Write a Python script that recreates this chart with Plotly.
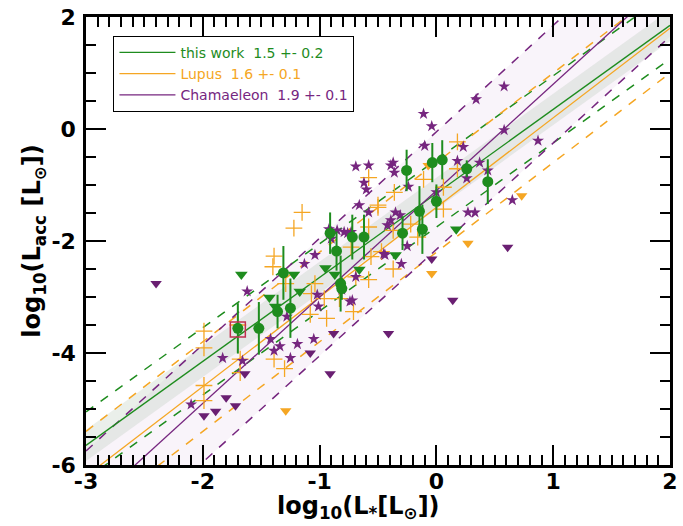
import numpy as np
import plotly.graph_objects as go

# ---------------- data ----------------
# this work: detections (log L*, log Lacc, error)
tw_x = [-1.70, -1.52, -1.31, -1.36, -1.25, -0.91, -0.855, -0.82, -0.81, -0.72,
        -0.62, -0.255, -0.035, 0.05, 0.26, 0.44, 0.00, -0.145, -0.12, -0.29]
tw_y = [-3.56, -3.56, -2.57, -3.26, -3.20, -1.86, -2.18, -2.76, -2.85, -1.93,
        -1.93, -0.74, -0.60, -0.55, -0.71, -0.94, -1.29, -1.47, -1.79, -1.86]
tw_err = [0.45, 0.47, 0.48, 0.30, 0.53, 0.37, 0.35, 0.50, 0.20, 0.40,
          0.40, 0.37, 0.35, 0.35, 0.15, 0.40, 0.30, 0.45, 0.44, 0.30]
# this work: upper limits
twu_x = [-1.67, -1.43, -1.38, -1.22, -1.17, -0.95, -0.87, -0.66, -0.35, 0.17]
twu_y = [-2.60, -3.01, -3.17, -2.60, -2.90, -2.48, -2.60, -2.51, -2.25, -1.79]

# Lupus detections
lu_x = [-1.99, -1.99, -1.99, -1.99, -1.68, -1.68, -1.39, -1.39, -1.30, -1.08,
        -0.96, -0.94, -1.22, -1.15, -1.40, -1.29, -1.04, -1.07, -0.83, -0.71,
        -0.73, -0.58, -0.50, -0.58, -0.56, -0.37, -0.47, -0.69, -0.11, 0.06,
        0.18, 0.18, -0.36, -0.58, -0.50, -0.37, -0.22, -0.16, 0.06, -1.70]
lu_y = [-3.61, -3.91, -4.58, -4.85, -4.11, -4.35, -2.27, -4.11, -4.28, -3.31,
        -3.03, -3.38, -1.77, -1.49, -2.46, -2.76, -2.76, -2.94, -3.03, -3.26,
        -2.11, -1.75, -1.36, -2.69, -2.28, -2.50, -2.19, -2.64, -0.90, -1.04,
        -0.23, -0.71, -1.13, -0.87, -1.40, -1.81, -1.70, -1.93, -1.43, -3.50]
# Lupus upper limits
luu_x = [0.27, -0.04, 0.73, -1.29, -0.07]
luu_y = [-2.04, -2.58, -1.19, -5.03, -0.65]

# Chamaeleon detections
ch_x = [-2.10, -1.83, -1.66, -1.62, -1.42, -1.39, -1.34, -1.25, -1.19, -1.05,
        -1.02, -1.01, -1.13, -1.04, -1.28, -0.92, -0.85, -0.90, -0.79, -0.69,
        -0.58, -0.62, -0.60, -0.39, -0.66, -0.58, -0.39, -0.73, -0.81, -0.69,
        -0.74, -0.45, 0.58, 0.34, -0.11, -0.04, 0.58, -0.10, 0.23, 0.87,
        0.37, 0.44, 0.26, 0.18, -0.37, -0.36, -0.24, 0.00, -0.35, -0.31,
        0.27, 0.33, -0.42, -0.76, -0.25, -0.30, -0.44, -0.72, 0.65]
ch_y = [-4.92, -4.09, -4.14, -2.90, -3.75, -3.96, -3.88, -4.09, -3.84, -3.75,
        -2.96, -3.17, -2.41, -2.25, -3.35, -1.79, -1.81, -1.96, -1.84, -0.67,
        -0.65, -0.96, -1.08, -0.65, -1.36, -1.49, -1.63, -1.84, -2.87, -2.64,
        -3.08, -2.23, 0.76, 0.53, 0.27, 0.05, -0.02, -0.30, -0.32, -0.21,
        -0.60, -0.74, -0.88, -0.57, -0.60, -0.78, -1.03, -1.13, -1.49, -1.54,
        -1.49, -1.49, -1.72, -1.86, -2.09, -2.41, -2.25, -3.06, -1.27]
# Chamaeleon upper limits
chu_x = [-2.40, -1.80, -1.72, -1.99, -1.89, -1.64, -1.08, -0.91, -0.88, -0.04, 0.61, 0.14, -0.41]
chu_y = [-2.76, -4.80, -4.94, -5.12, -5.04, -4.37, -4.00, -4.37, -3.65, -2.32, -2.11, -3.06, -3.65]

# highlighted object
hl_x = [-1.70]
hl_y = [-3.58]

# fits: slope, intercept, dashed-line scatter
fit_names = ["this work\u00a0\u00a01.5 +- 0.2", "Lupus\u00a0\u00a01.6 +- 0.1", "Chamaeleon\u00a0\u00a01.9 +- 0.1"]
fit_slope = [1.5, 1.6, 1.9]
fit_icpt = [-1.15, -1.40, -1.10]
fit_scatter = [0.60, 0.80, 1.05]
band_halfwidth = 0.28

x_ticks = [-3, -2, -1, 0, 1, 2]
x_ticklabels = ["-3", "-2", "-1", "0", "1", "2"]
y_ticks = [-6, -4, -2, 0, 2]
y_ticklabels = ["-6", "-4", "-2", "0", "2"]

GREEN = "#1e8c1e"
ORANGE = "#f5a623"
PURPLE = "#76267f"
colors = [GREEN, ORANGE, PURPLE]

xl = np.linspace(-3, 2, 101)
fig = go.Figure()

# purple scatter band (very light)
m, b, s = fit_slope[2], fit_icpt[2], fit_scatter[2]
fig.add_trace(go.Scatter(x=np.concatenate([xl, xl[::-1]]),
                         y=np.concatenate([m*xl+b+s, (m*xl+b-s)[::-1]]),
                         fill="toself", fillcolor="rgba(200,150,210,0.10)",
                         line=dict(width=0), hoverinfo="skip", showlegend=False))
# green band
m, b = fit_slope[0], fit_icpt[0]
fig.add_trace(go.Scatter(x=np.concatenate([xl, xl[::-1]]),
                         y=np.concatenate([m*xl+b+band_halfwidth, (m*xl+b-band_halfwidth)[::-1]]),
                         fill="toself", fillcolor="rgba(170,190,170,0.25)",
                         line=dict(width=0), hoverinfo="skip", showlegend=False))

for i in range(3):
    m, b, s = fit_slope[i], fit_icpt[i], fit_scatter[i]
    for sign in (1, -1):
        fig.add_trace(go.Scatter(x=xl, y=m*xl+b+sign*s, mode="lines",
                                 line=dict(color=colors[i], width=1.5, dash="dash"),
                                 hoverinfo="skip", showlegend=False))
for i in range(3):
    m, b = fit_slope[i], fit_icpt[i]
    fig.add_trace(go.Scatter(x=xl, y=m*xl+b, mode="lines",
                             line=dict(color=colors[i], width=1.3),
                             name='<span style="color:%s">%s</span>' % (colors[i], fit_names[i])))

# Lupus detections
fig.add_trace(go.Scatter(x=lu_x, y=lu_y, mode="markers", showlegend=False,
                         marker=dict(symbol="cross-thin", size=12, color=ORANGE,
                                     line=dict(color=ORANGE, width=1.3))))
# Chamaeleon detections
fig.add_trace(go.Scatter(x=ch_x, y=ch_y, mode="markers", showlegend=False,
                         marker=dict(symbol="star", size=9, color=PURPLE, line=dict(width=0))))
# upper limits
fig.add_trace(go.Scatter(x=luu_x, y=luu_y, mode="markers", showlegend=False,
                         marker=dict(symbol="triangle-down", size=10, color=ORANGE)))
fig.add_trace(go.Scatter(x=chu_x, y=chu_y, mode="markers", showlegend=False,
                         marker=dict(symbol="triangle-down", size=10, color="#6a1f72")))
fig.add_trace(go.Scatter(x=twu_x, y=twu_y, mode="markers", showlegend=False,
                         marker=dict(symbol="triangle-down", size=11, color=GREEN)))
# this work detections
fig.add_trace(go.Scatter(x=tw_x, y=tw_y, mode="markers", showlegend=False,
                         error_y=dict(type="data", array=tw_err, color=GREEN, thickness=2, width=0),
                         marker=dict(symbol="circle", size=11, color=GREEN)))
# highlighted
fig.add_trace(go.Scatter(x=hl_x, y=hl_y, mode="markers", showlegend=False,
                         marker=dict(symbol="square-open", size=15, color="#c03050",
                                     line=dict(width=1.5))))

axis_common = dict(showgrid=False, zeroline=False, showline=True, linecolor="black",
                   linewidth=2.5, mirror="allticks", ticks="inside", ticklen=20,
                   tickwidth=2, tickcolor="black",
                   tickfont=dict(family="DejaVu Sans", size=22, color="black", weight="bold"))
fig.update_xaxes(range=[-3, 2], tickvals=x_ticks, ticktext=x_ticklabels,
                 ticklabelstandoff=-5,
                 minor=dict(dtick=0.1, ticklen=10, tickwidth=2, ticks="inside", tickcolor="black"),
                 **axis_common)
fig.update_yaxes(range=[-6, 2], tickvals=y_ticks, ticktext=y_ticklabels,
                 ticklabelstandoff=3,
                 minor=dict(dtick=0.5, ticklen=10, tickwidth=2, ticks="inside", tickcolor="black"),
                 title=dict(text="log<sub>10</sub>(L<sub>acc</sub> [L<sub>⊙</sub>])", standoff=4,
                            font=dict(family="DejaVu Sans", size=24, color="black", weight="bold")),
                 **axis_common)

fig.add_annotation(text="log<sub>10</sub>(L<sub>*</sub>[L<sub>⊙</sub>])",
                   xref="paper", yref="paper", x=0.466, y=-0.094,
                   xanchor="center", yanchor="middle", showarrow=False,
                   font=dict(family="DejaVu Sans", size=24, color="black", weight="bold"))

fig.update_layout(
    width=683, height=526,
    margin=dict(l=86, r=5, t=13, b=61),
    paper_bgcolor="white", plot_bgcolor="white",
    legend=dict(x=0.047, y=0.958, xanchor="left", yanchor="top",
                bgcolor="white", bordercolor="black", borderwidth=1,
                font=dict(family="DejaVu Sans", size=14), itemwidth=56,
                tracegroupgap=0),
)
fig.write_html("out.html")
